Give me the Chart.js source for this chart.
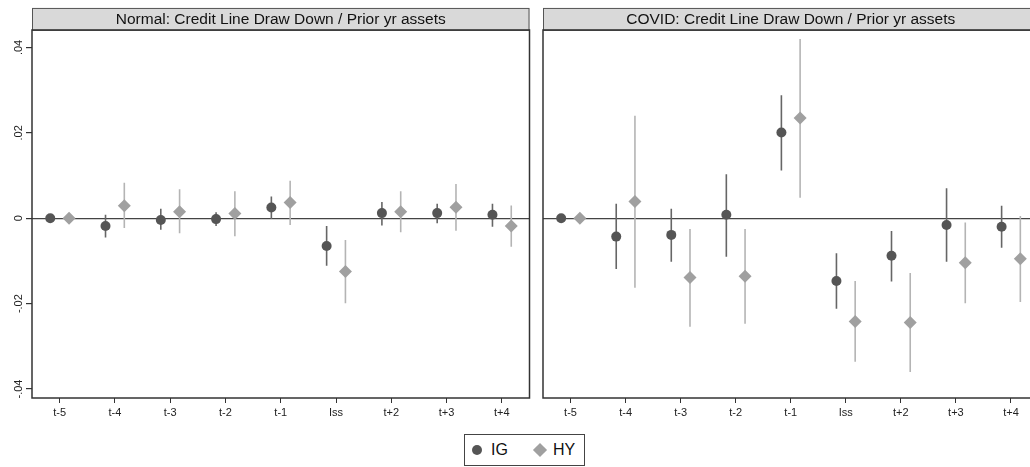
<!DOCTYPE html>
<html>
<head>
<meta charset="utf-8">
<script src="https://cdn.jsdelivr.net/npm/chart.js@4"></script>
<style>
  body { margin: 0; background: #fff; }
  #wrap { position: relative; width: 1030px; height: 467px; overflow: hidden; font-family: "Liberation Sans", Arial, Helvetica, sans-serif; }
  .panel { position: absolute; top: 0; height: 432px; }
  #legend { position: absolute; left: 464px; top: 434px; width: 119px; height: 30px; border: 1px solid #444; box-sizing: content-box; }
  #legend span { position: absolute; }
  .dot { left: 7px; top: 10px; width: 10px; height: 10px; border-radius: 50%; background: #555; }
  .dia { left: 70px; top: 10px; width: 10px; height: 10px; background: #a0a0a0; transform: rotate(45deg); }
  .lab { top: 6px; font-size: 16px; line-height: 18px; color: #111; }
</style>
</head>
<body>
<div id="wrap">
  <div class="panel" style="left:0;width:536px"><canvas id="normalChart"></canvas></div>
  <div class="panel" style="left:536px;width:509px"><canvas id="covidChart"></canvas></div>
  <div id="legend">
    <span class="dot"></span><span class="lab" style="left:26px">IG</span>
    <span class="dia"></span><span class="lab" style="left:88px">HY</span>
  </div>
</div>
<script>
// event-time categories
const categories = ['t-5', 't-4', 't-3', 't-2', 't-1', 'Iss', 't+2', 't+3', 't+4'];
const yTicks = [-0.04, -0.02, 0, 0.02, 0.04];

// Normal period
const normalIG     = [0, -0.0018, -0.0004, -0.0002, 0.0025, -0.0065, 0.0012, 0.0012, 0.0008];
const normalIGLow  = [0, -0.0045, -0.0027, -0.0018, -0.0002, -0.0111, -0.0017, -0.0012, -0.0020];
const normalIGHigh = [0, 0.0008, 0.0022, 0.0014, 0.0051, -0.0018, 0.0038, 0.0034, 0.0034];
const normalHY     = [0, 0.0029, 0.0015, 0.0011, 0.0037, -0.0125, 0.0015, 0.0026, -0.0018];
const normalHYLow  = [0, -0.0023, -0.0035, -0.0042, -0.0016, -0.0199, -0.0033, -0.0029, -0.0067];
const normalHYHigh = [0, 0.0083, 0.0068, 0.0063, 0.0088, -0.0051, 0.0063, 0.0080, 0.0030];

// COVID period
const covidIG     = [0, -0.0043, -0.0039, 0.0008, 0.0201, -0.0147, -0.0088, -0.0016, -0.0020];
const covidIGLow  = [0, -0.0119, -0.0102, -0.0090, 0.0112, -0.0212, -0.0148, -0.0102, -0.0069];
const covidIGHigh = [0, 0.0034, 0.0022, 0.0103, 0.0288, -0.0082, -0.0030, 0.0070, 0.0029];
const covidHY     = [0, 0.0039, -0.0139, -0.0136, 0.0235, -0.0242, -0.0244, -0.0104, -0.0095];
const covidHYLow  = [0, -0.0163, -0.0254, -0.0247, 0.0048, -0.0336, -0.0360, -0.0199, -0.0196];
const covidHYHigh = [0, 0.0240, -0.0025, -0.0025, 0.0420, -0.0147, -0.0128, -0.0010, 0.0005];

const igColor = '#555555';
const hyColor = '#a0a0a0';
const igShift = -0.17;
const hyShift = 0.17;
const fontFamily = '"Liberation Sans", Arial, Helvetica, sans-serif';

// gray title strip and box around the plot area
const panelFrame = {
    id: 'panelFrame',
    beforeDraw(chart) {
        const { ctx, chartArea: a } = chart;
        ctx.save();
        ctx.fillStyle = '#d9d9d9';
        ctx.fillRect(a.left, a.top - 22, a.right - a.left, 22);
        ctx.strokeStyle = '#555';
        ctx.lineWidth = 1;
        ctx.strokeRect(a.left + 0.5, a.top - 21.5, a.right - a.left - 1, 22);
        ctx.restore();
    },
    afterDraw(chart) {
        const { ctx, chartArea: a } = chart;
        ctx.save();
        ctx.strokeStyle = '#333';
        ctx.lineWidth = 1.5;
        ctx.strokeRect(a.left, a.top, a.right - a.left, a.bottom - a.top);
        ctx.restore();
    }
};

const fmtY = (v) => {
    if (v === 0) return '0';
    return (v < 0 ? '-' : '') + Math.abs(v).toFixed(2).replace(/^0/, '');
};

const makeChart = (canvasId, title, ig, igLow, igHigh, hy, hyLow, hyHigh, showYLabels) => {
    const igPoints = ig.map((v, i) => ({ x: i + 1 + igShift, y: v }));
    const hyPoints = hy.map((v, i) => ({ x: i + 1 + hyShift, y: v }));
    const igBars = igLow.map((v, i) => ({ x: i + 1 + igShift, y: [v, igHigh[i]] }));
    const hyBars = hyLow.map((v, i) => ({ x: i + 1 + hyShift, y: [v, hyHigh[i]] }));

    const yAxis = {
        type: 'linear',
        min: -0.0421,
        max: 0.0441,
        afterBuildTicks: (s) => { s.ticks = yTicks.map(v => ({ value: v })); },
        afterFit: (s) => { s.width = showYLabels ? 32 : 7; },
        border: { display: false },
        grid: {
            drawOnChartArea: true,
            drawTicks: showYLabels,
            tickLength: 6,
            tickColor: '#333',
            lineWidth: 1.2,
            color: (c) => (c.tick && c.tick.value === 0 ? '#444' : 'rgba(0,0,0,0)')
        },
        ticks: {
            display: showYLabels,
            minRotation: 90,
            maxRotation: 90,
            crossAlign: 'center',
            padding: -2,
            color: '#222',
            font: { family: fontFamily, size: 11 },
            callback: (v) => fmtY(v)
        }
    };

    return new Chart(document.getElementById(canvasId), {
        type: 'bar',
        data: {
            datasets: [
                { type: 'scatter', label: 'IG', data: igPoints, order: 0, pointStyle: 'circle', pointRadius: 5, pointBackgroundColor: igColor, pointBorderColor: igColor, pointBorderWidth: 0 },
                { type: 'scatter', label: 'HY', data: hyPoints, order: 0, pointStyle: 'rectRot', pointRadius: 6.5, pointBackgroundColor: hyColor, pointBorderColor: hyColor, pointBorderWidth: 0 },
                { type: 'bar', label: 'IG ci', data: igBars, order: 1, backgroundColor: '#666', grouped: false, maxBarThickness: 1.6 },
                { type: 'bar', label: 'HY ci', data: hyBars, order: 1, backgroundColor: '#b4b4b4', grouped: false, maxBarThickness: 1.6 }
            ]
        },
        options: {
            responsive: true,
            maintainAspectRatio: false,
            animation: false,
            layout: { padding: { top: 0, right: showYLabels ? 6 : 4, left: 0, bottom: 0 } },
            plugins: {
                legend: { display: false },
                tooltip: { enabled: false },
                title: {
                    display: true,
                    text: title,
                    fullSize: false,
                    color: '#111',
                    font: { family: fontFamily, size: 15.5, weight: 'normal', lineHeight: 1.1 },
                    padding: { top: 10.7, bottom: 2.2 }
                }
            },
            scales: {
                x: {
                    type: 'linear',
                    offset: false,
                    min: 0.5,
                    max: 9.5,
                    afterBuildTicks: (s) => { s.ticks = categories.map((c, i) => ({ value: i + 1 })); },
                    afterFit: (s) => { s.height = 34; },
                    border: { display: false },
                    grid: { offset: false, drawOnChartArea: false, tickLength: 5, color: '#333', lineWidth: 1 },
                    ticks: {
                        color: '#222',
                        padding: 3,
                        maxRotation: 0,
                        font: { family: fontFamily, size: 11 },
                        callback: (v) => categories[Math.round(v) - 1]
                    }
                },
                y: yAxis
            }
        },
        plugins: [panelFrame]
    });
};

makeChart('normalChart', 'Normal: Credit Line Draw Down / Prior yr assets',
    normalIG, normalIGLow, normalIGHigh, normalHY, normalHYLow, normalHYHigh, true);
makeChart('covidChart', 'COVID: Credit Line Draw Down / Prior yr assets',
    covidIG, covidIGLow, covidIGHigh, covidHY, covidHYLow, covidHYHigh, false);
</script>
</body>
</html>
